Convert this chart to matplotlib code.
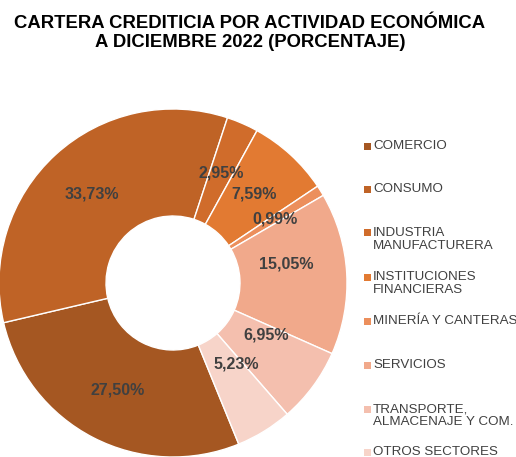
import matplotlib
matplotlib.use("Agg")
import matplotlib.pyplot as plt
from matplotlib.patches import Rectangle
import numpy as np

plt.rcParams['font.family'] = ['Liberation Sans', 'DejaVu Sans']

title = "CARTERA CREDITICIA POR ACTIVIDAD ECONÓMICA\nA DICIEMBRE 2022 (PORCENTAJE)"
categories = ["COMERCIO", "CONSUMO", "INDUSTRIA\nMANUFACTURERA", "INSTITUCIONES\nFINANCIERAS",
              "MINERÍA Y CANTERAS", "SERVICIOS", "TRANSPORTE,\nALMACENAJE Y COM.", "OTROS SECTORES"]
values = [27.50, 33.73, 2.95, 7.59, 0.99, 15.05, 6.95, 5.23]
labels = ["27,50%", "33,73%", "2,95%", "7,59%", "0,99%", "15,05%", "6,95%", "5,23%"]
colors = ["#A55722", "#BF6326", "#D06C2B", "#E27A32", "#EC8F5C", "#F1A98B", "#F4BFAE", "#F7D4C9"]
# label nudges in pixels (x, y up)
label_nudge = [(0, 0), (0, 0), (0, 0), (0, 0), (0, 0), (-7, 12), (-4, 20), (0, 22)]

W, H = 516, 457
fig = plt.figure(figsize=(W / 100, H / 100), dpi=100)

cx, cy, R = 173, 283, 174
ax = fig.add_axes([(cx - R) / W, (H - cy - R) / H, 2 * R / W, 2 * R / H])
wedges, _ = ax.pie(values, colors=colors, startangle=-67.8, counterclock=False, radius=1,
                   wedgeprops=dict(width=0.615, edgecolor="white", linewidth=1.0))
ax.set_xlim(-1, 1)
ax.set_ylim(-1, 1)
ax.set_aspect("equal")
ax.axis("off")

rmid = 1 - 0.615 / 2
for w, lab, (nx, ny) in zip(wedges, labels, label_nudge):
    th = np.deg2rad((w.theta1 + w.theta2) / 2)
    x, y = rmid * np.cos(th), rmid * np.sin(th)
    ax.annotate(lab, (x, y), xytext=(nx * 0.72, ny * 0.72), textcoords="offset points",
                ha="center", va="center", fontsize=11.5, fontweight="bold", color="#404040")

fig.text(250 / W, 1 - 33 / H, title, ha="center", va="center", fontsize=13.3,
         fontweight="bold", color="black", linespacing=1.15)

ys = [146, 189, 233, 277, 321, 365, 409, 452]
for cat, col, y in zip(categories, colors, ys):
    fig.patches.append(Rectangle((364 / W, 1 - (y + 3.5) / H), 7 / W, 7 / H,
                                 transform=fig.transFigure, facecolor=col, edgecolor="none"))
    if "\n" in cat:
        fig.text(373 / W, 1 - (y - 6) / H, cat, ha="left", va="top",
                 fontsize=9.6, color="#404040", linespacing=1.15)
    else:
        fig.text(373 / W, 1 - y / H, cat, ha="left", va="center",
                 fontsize=9.6, color="#404040")

fig.savefig("out.png", dpi=100)
